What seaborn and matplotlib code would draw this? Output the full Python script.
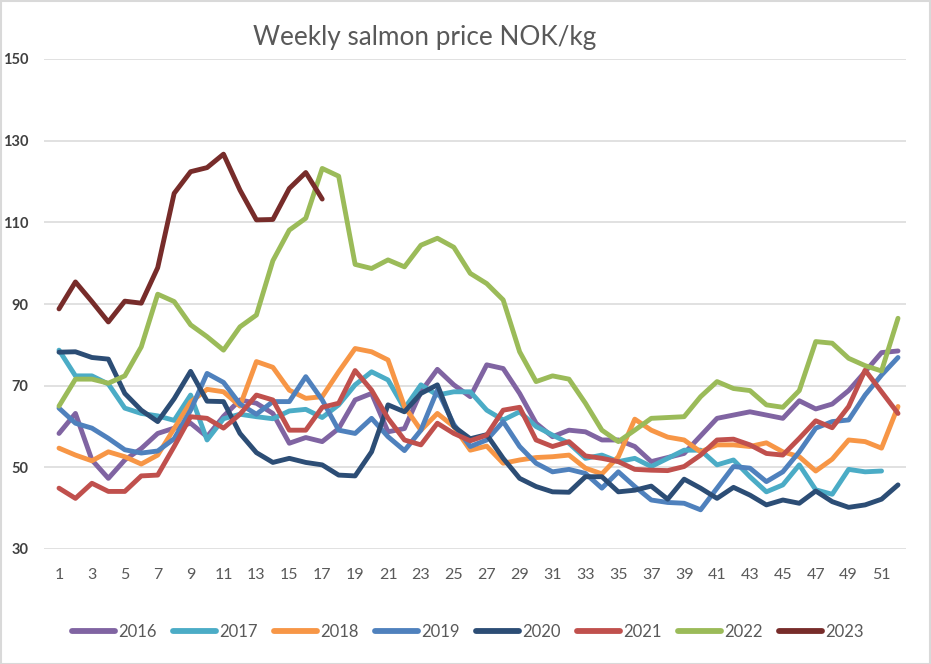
import numpy as np
import pandas as pd
import matplotlib
matplotlib.use("Agg")
import matplotlib.pyplot as plt
import seaborn as sns
from matplotlib.lines import Line2D
from matplotlib.patches import Rectangle

weeks = list(range(1, 53))

y2016 = [58.3, 63.2, 51.8, 47.3, 51.8, 54.6, 58.3, 59.6, 60.8, 57.5,
         62.5, 66.5, 65.7, 63.2, 55.9, 57.3, 56.3, 59.5, 66.5, 68.1,
         58.7, 59.5, 68.5, 74.0, 70.2, 67.3, 75.1, 74.2, 68.1, 60.8,
         57.5, 59.1, 58.7, 56.7, 56.7, 55.1, 51.4, 52.4, 53.4, 57.7,
         62.0, 62.8, 63.6, 62.8, 62.0, 66.3, 64.3, 65.5, 68.8, 73.4,
         78.1, 78.5]
y2017 = [78.7, 72.4, 72.4, 70.4, 64.5, 63.2, 62.6, 61.5, 67.7, 56.7,
         61.9, 63.0, 62.4, 61.9, 63.8, 64.2, 62.2, 65.3, 70.2, 73.4,
         71.4, 64.4, 70.2, 67.7, 68.5, 68.5, 64.0, 61.6, 63.6, 60.0,
         57.9, 55.9, 52.2, 53.0, 51.4, 52.2, 50.2, 52.2, 54.2, 54.2,
         50.6, 51.8, 47.7, 44.0, 45.7, 50.6, 44.5, 43.4, 49.5, 48.9,
         49.1, np.nan]
y2018 = [54.7, 53.0, 51.6, 53.8, 52.6, 50.8, 53.0, 59.5, 66.0, 69.1,
         68.5, 65.0, 75.9, 74.5, 68.9, 66.9, 67.3, 73.4, 79.1, 78.3,
         76.3, 64.9, 59.1, 63.2, 60.0, 54.2, 55.2, 51.0, 51.8, 52.4,
         52.6, 53.0, 49.8, 48.4, 52.6, 61.8, 59.1, 57.4, 56.7, 53.8,
         55.5, 55.5, 55.1, 56.0, 53.8, 52.6, 49.1, 52.0, 56.7, 56.3,
         54.7, 64.9]
y2019 = [64.5, 60.8, 59.6, 57.1, 54.3, 53.5, 54.0, 57.0, 64.0, 73.0,
         70.8, 65.5, 63.0, 66.1, 66.1, 72.2, 66.5, 59.1, 58.3, 62.0,
         57.5, 54.1, 59.1, 68.9, 60.5, 55.1, 56.7, 61.2, 55.1, 51.0,
         48.9, 49.5, 48.5, 44.9, 48.9, 45.3, 42.0, 41.4, 41.2, 39.6,
         44.9, 50.2, 49.8, 46.5, 48.9, 53.8, 59.6, 61.2, 61.6, 67.7,
         72.6, 76.9]
y2020 = [78.2, 78.3, 76.9, 76.5, 68.1, 64.0, 61.2, 66.8, 73.5, 66.2,
         66.1, 58.3, 53.6, 51.2, 52.2, 51.2, 50.6, 48.1, 47.9, 53.8,
         65.3, 63.6, 68.1, 70.2, 60.0, 57.0, 58.0, 52.2, 47.3, 45.3,
         44.0, 43.9, 47.7, 47.7, 44.0, 44.4, 45.4, 42.2, 47.1, 44.9,
         42.4, 45.1, 43.2, 40.8, 42.0, 41.2, 44.2, 41.6, 40.2, 40.8,
         42.2, 45.7]
y2021 = [44.9, 42.4, 46.1, 44.1, 44.1, 47.9, 48.1, 55.1, 62.4, 62.0,
         59.6, 63.0, 67.7, 66.5, 59.1, 59.1, 64.7, 65.7, 73.7, 68.9,
         62.0, 56.7, 55.5, 60.8, 58.3, 56.5, 57.9, 64.0, 64.7, 56.7,
         55.1, 56.3, 52.8, 52.2, 51.4, 49.5, 49.3, 49.2, 50.2, 53.0,
         56.7, 56.9, 55.5, 53.4, 53.0, 57.1, 61.4, 59.7, 64.9, 73.8,
         68.5, 63.2]
y2022 = [65.0, 71.6, 71.6, 70.6, 72.4, 79.5, 92.4, 90.6, 84.9, 82.0,
         78.7, 84.4, 87.3, 100.6, 108.1, 111.0, 123.2, 121.3, 99.7, 98.7,
         100.8, 99.1, 104.4, 106.1, 103.9, 97.5, 95.0, 91.0, 78.3, 71.0,
         72.4, 71.6, 65.7, 59.1, 56.3, 59.1, 62.0, 62.2, 62.4, 67.3,
         71.0, 69.3, 68.8, 65.3, 64.7, 68.8, 80.8, 80.4, 76.7, 74.9,
         73.6, 86.5]
y2023 = [88.8, 95.4, 90.6, 85.6, 90.7, 90.2, 98.9, 117.1, 122.4, 123.4,
         126.7, 117.9, 110.6, 110.7, 118.3, 122.2, 115.7] + [np.nan] * 35

years = ["2016", "2017", "2018", "2019", "2020", "2021", "2022", "2023"]
series = [y2016, y2017, y2018, y2019, y2020, y2021, y2022, y2023]
colors = ["#8064A2", "#4BACC6", "#F79646", "#4F81BD",
          "#2C4D75", "#C0504D", "#9BBB59", "#772C2A"]
palette = dict(zip(years, colors))

rows = []
for yr, vals in zip(years, series):
    for w, v in zip(weeks, vals):
        if not np.isnan(v):
            rows.append({"week": w, "price": v, "year": yr})
df = pd.DataFrame(rows)

sns.set_theme(style="white")
plt.rcParams["font.family"] = ["Lato", "DejaVu Sans"]

W, H = 931, 664
fig = plt.figure(figsize=(W / 100, H / 100), dpi=100)
left, right, top, bottom = 44, 906, 59, 549
ax = fig.add_axes([left / W, 1 - bottom / H, (right - left) / W, (bottom - top) / H])

for y in range(30, 151, 20):
    ax.axhline(y, color="#D9D9D9", lw=1.1, zorder=0)

sns.lineplot(data=df, x="week", y="price", hue="year", palette=palette,
             hue_order=years, lw=3.5, ax=ax, legend=False, sort=True,
             solid_joinstyle="round", solid_capstyle="round")

sp = 16.45
ax.set_xlim(1 - (59 - left) / sp, 52 + (right - 898) / sp)
ax.set_ylim(30, 150)
for s in ax.spines.values():
    s.set_visible(False)
ax.set_xticks(list(range(1, 53, 2)))
ax.set_xticklabels([str(w) for w in range(1, 53, 2)], color="#595959", fontsize=11.5)
ax.set_yticks(list(range(30, 151, 20)))
ax.set_yticklabels([str(v) for v in range(30, 151, 20)], color="#404040",
                   fontsize=10.5, fontweight="bold")
ax.tick_params(axis="x", length=0, pad=14)
ax.tick_params(axis="y", length=0, pad=11)
ax.set_xlabel("")
ax.set_ylabel("")
ax.grid(False)

fig.text(425 / W, 1 - 37 / H, "Weekly salmon price NOK/kg", ha="center", va="center",
         fontsize=18.8, color="#595959")

handles = [Line2D([0], [0], color=c, lw=4.2, solid_capstyle="round") for c in colors]
fig.legend(handles, years, loc="center", bbox_to_anchor=(468 / W, 1 - 632 / H),
           ncol=8, frameon=False, fontsize=12, handlelength=2.6, handletextpad=0.2,
           columnspacing=0.95, labelcolor="#595959")

fig.patches.append(Rectangle((0.5 / W, 0.5 / H), 1 - 1.5 / W, 1 - 1.5 / H,
                             transform=fig.transFigure, fill=False,
                             edgecolor="#D9D9D9", lw=1.5))

fig.savefig("out.png", dpi=100)
